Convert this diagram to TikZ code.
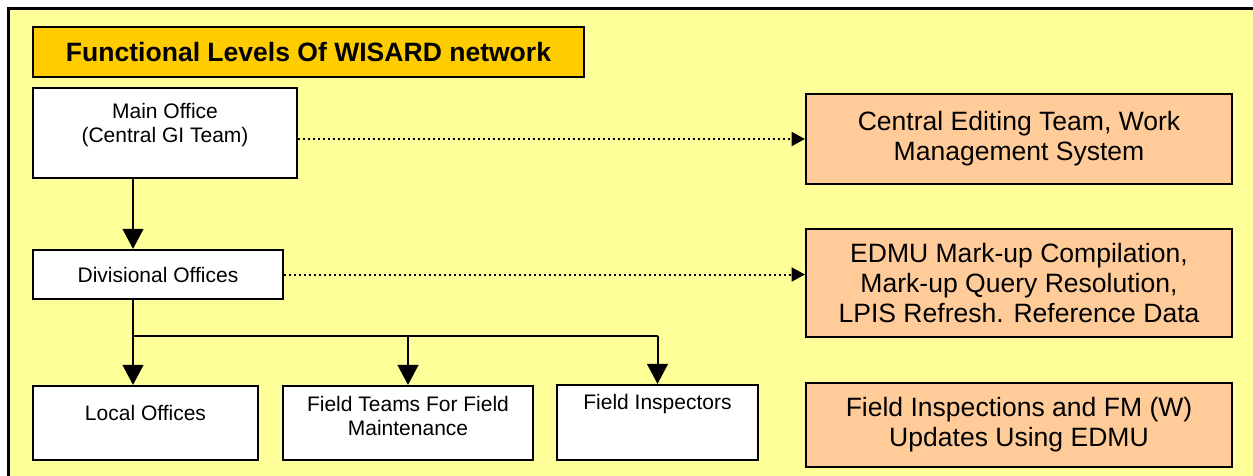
\documentclass[tikz,border=0pt]{standalone}
\usepackage{fontspec}
\setmainfont{Liberation Sans}
\usetikzlibrary{arrows.meta}
\definecolor{bgyellow}{HTML}{FFFF99}
\definecolor{titlegold}{HTML}{FFCC00}
\definecolor{peach}{HTML}{FFCC99}
\tikzset{
  boxbase/.style={draw=black, line width=1.6pt, rectangle, inner sep=0pt, align=center},
  wbox/.style={boxbase, fill=white, font=\fontsize{15.75pt}{18pt}\selectfont},
  pbox/.style={boxbase, fill=peach, font=\fontsize{19.9pt}{22.5pt}\selectfont},
  tbox/.style={boxbase, fill=titlegold, font=\bfseries\fontsize{19.9pt}{22.5pt}\selectfont},
  wtxt/.style={inner sep=0pt, align=center, font=\fontsize{15.75pt}{18pt}\selectfont},
  conn/.style={draw=black, line width=1.5pt},
  arr/.style={conn, -{Triangle[width=15.5pt,length=15pt]}},
  dotarr/.style={draw=black, line width=1.5pt, dash pattern=on 1.8pt off 1.95pt, -{Triangle[width=10.5pt,length=10pt]}}
}
\begin{document}
\begin{tikzpicture}[x=0.75pt,y=-0.75pt]
\useasboundingbox (0,0) rectangle (1253,475);
\clip (0,0) rectangle (1253,475);
\draw[line width=2.25pt, fill=bgyellow] (8,8) rectangle (1275,495);
% title
\node[tbox, minimum width=413.25pt, minimum height=37.5pt] (title) at (308.5,52) {Functional Levels Of WISARD network};
% left boxes
\node[wbox, minimum width=198pt, minimum height=67.5pt] (main) at (165,133) {};
\node[wtxt] (mainT) at (165,125) {Main Office\\(Central GI Team)};
\node[wbox, minimum width=187.5pt, minimum height=36.75pt] (div) at (158,274.5) {Divisional Offices};
\node[wbox, minimum width=168.75pt, minimum height=55.5pt] (local) at (145.5,423) {};
\node[wtxt] (localT) at (145.5,413) {Local Offices};
\node[wbox, minimum width=187.5pt, minimum height=55.5pt] (fteam) at (408,423) {};
\node[wtxt] (fteamT) at (408,416) {Field Teams For Field\\Maintenance};
\node[wbox, minimum width=150.75pt, minimum height=56.25pt] (finsp) at (657.5,422.5) {};
\node[wtxt] (finspT) at (657.5,404) {Field Inspectors};
% right boxes
\node[pbox, minimum width=319.5pt, minimum height=67.5pt] (r1) at (1019,139) {Central Editing Team, Work\\Management System};
\node[pbox, minimum width=319.5pt, minimum height=81pt] (r2) at (1019,283) {EDMU Mark-up Compilation,\\Mark-up Query Resolution,\\LPIS Refresh. Reference Data};
\node[pbox, minimum width=319.5pt, minimum height=63pt] (r3) at (1019,425) {Field Inspections and FM (W)\\Updates Using EDMU};
% connectors
\coordinate (trunk) at (133,0);
\coordinate (br) at (133,336);
\draw[arr] (main.south -| trunk) -- (div.north -| trunk);
\draw[arr] (div.south -| trunk) -- (local.north -| trunk);
\draw[conn] (br) -- (br -| finsp.north);
\draw[arr] (br -| fteam.north) -- (fteam.north);
\draw[arr] (br -| finsp.north) -- (finsp.north);
\draw[dotarr] (main.east |- r1.west) -- (r1.west);
\draw[dotarr] (div.east) -- (div.east -| r2.west);
\end{tikzpicture}
\end{document}
